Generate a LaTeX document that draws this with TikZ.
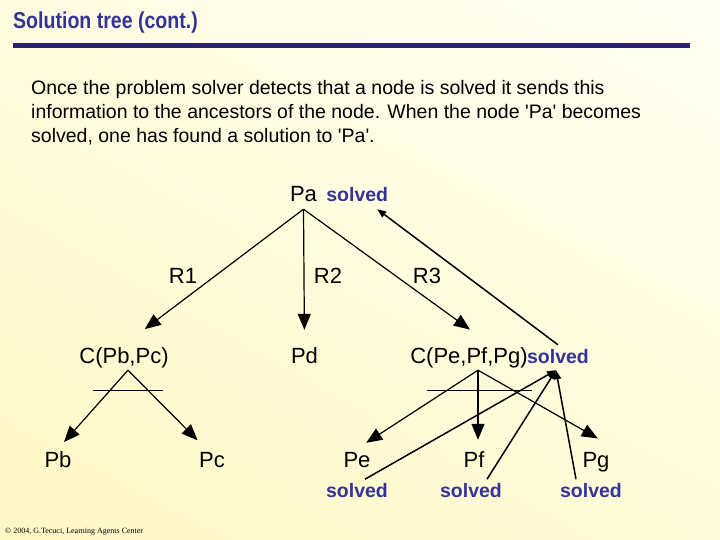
\documentclass[tikz,border=0pt]{standalone}
\usepackage{fontspec}
\setmainfont{Liberation Sans}
\newfontfamily\footfont{Liberation Serif}
\usepackage{xcolor}
\usetikzlibrary{arrows.meta,positioning,calc,shadings}
\definecolor{slideblue}{HTML}{333399}
\definecolor{rulenavy}{HTML}{2A2070}
\definecolor{creamUL}{HTML}{FFFCE0}
\definecolor{creamUR}{HTML}{FFFFF5}
\definecolor{creamLL}{HTML}{FFF8C4}
\definecolor{creamLR}{HTML}{FFFBD8}

\begin{document}
\begin{tikzpicture}[
  x=1pt,y=-1pt,
  slidetitle/.style={font=\fontsize{23}{26}\selectfont\bfseries,text=slideblue,inner sep=0pt,anchor=base west},
  para/.style={font=\fontsize{19.5}{24}\selectfont,align=left,inner sep=0pt,anchor=north west},
  lbl/.style={font=\fontsize{22}{26}\selectfont,inner sep=2pt,text height=16pt,text depth=5pt,anchor=base},
  solved/.style={lbl,font=\fontsize{19.5}{24}\selectfont\bfseries,text=slideblue},
  arr/.style={-{Triangle[length=16pt,width=13pt]},line width=1.2pt},
  prop/.style={-{Triangle[length=9pt,width=7pt]},line width=1.5pt},
  andbar/.style={line width=1.2pt}
]
\shade[upper left=creamUL,upper right=creamUR,lower left=creamLL,lower right=creamLR]
  (0,0) rectangle (720,540);
\node[slidetitle] (head) at (13,29) {\scalebox{0.85}[1]{Solution tree (cont.)}};
\fill[rulenavy] (13,43) rectangle (690,48);
\node[para] (intro) at (31,80) {Once the problem solver detects that a node is solved it sends this\\
  information to the ancestors of the node. When the node \textquotesingle Pa\textquotesingle\ becomes\\
  solved, one has found a solution to \textquotesingle Pa\textquotesingle.};

\node[lbl] (pa) at (303.5,202) {Pa};
\node[solved,right=5pt of pa] (pa-ok) {solved};
\node[lbl] (r1) at (183,283) {R1};
\node[lbl] (r2) at (328,283) {R2};
\node[lbl] (r3) at (427,283) {R3};
\node[lbl] (cpbc) at (124,363) {C(Pb,Pc)};
\node[lbl] (pd) at (304.5,363) {Pd};
\node[lbl] (cpef) at (469,363) {C(Pe,Pf,Pg)};
\node[solved,right=-5pt of cpef] (cpef-ok) {solved};
\node[lbl] (pb) at (58,467) {Pb};
\node[lbl] (pc) at (212,467) {Pc};
\node[lbl] (pe) at (357,467) {Pe};
\node[lbl] (pf) at (474,467) {Pf};
\node[lbl] (pg) at (596,467) {Pg};
\node[solved,below=5pt of pe] (pe-ok) {solved};
\node[solved,below=5pt of pf,xshift=-3pt] (pf-ok) {solved};
\node[solved,below=5pt of pg,xshift=-5pt] (pg-ok) {solved};

\coordinate (pa-fork) at (pa.south);
\coordinate (pbc-fork) at ([xshift=4pt]cpbc.south);
\coordinate (pef-fork) at ([xshift=9pt]cpef.south);

\draw[arr,shorten >=26pt] (pa-fork) -- (cpbc.north);
\draw[arr,shorten >=15pt] (pa-fork) -- (pd.north);
\draw[arr,shorten >=26pt] (pa-fork) -- ([xshift=22pt]cpef.north);

\draw[arr,shorten >=9pt] (pbc-fork) -- (pb.north);
\draw[arr,shorten >=12pt] (pbc-fork) -- ([xshift=-6pt]pc.north);
\draw[andbar] ($(pbc-fork)+(-35,20)$) -- ++(70,0);

\draw[arr,shorten >=11pt] (pef-fork) -- (pe.north);
\draw[arr,shorten >=9pt] (pef-fork) -- (pef-fork |- pf.north);
\draw[arr,shorten >=21pt] (pef-fork) -- ([xshift=20pt]pg.north);
\draw[andbar] ($(pef-fork)+(-51,20)$) -- ++(105,0);

\draw[prop] ([xshift=8pt]pe-ok.north) -- ([xshift=-2pt]cpef-ok.south);
\draw[prop] ([xshift=16pt]pf-ok.north) -- ([xshift=-2pt]cpef-ok.south);
\draw[prop] ([xshift=-15pt]pg-ok.north) -- ([xshift=-2pt]cpef-ok.south);
\draw[prop] (cpef-ok.north) -- ([xshift=20pt]pa-ok.south);

\node[font=\footfont\fontsize{8}{9}\selectfont,inner sep=0pt,anchor=base west] (credit) at (5,533)
  {\copyright\ 2004, G.Tecuci, Learning Agents Center};
\end{tikzpicture}
\end{document}
